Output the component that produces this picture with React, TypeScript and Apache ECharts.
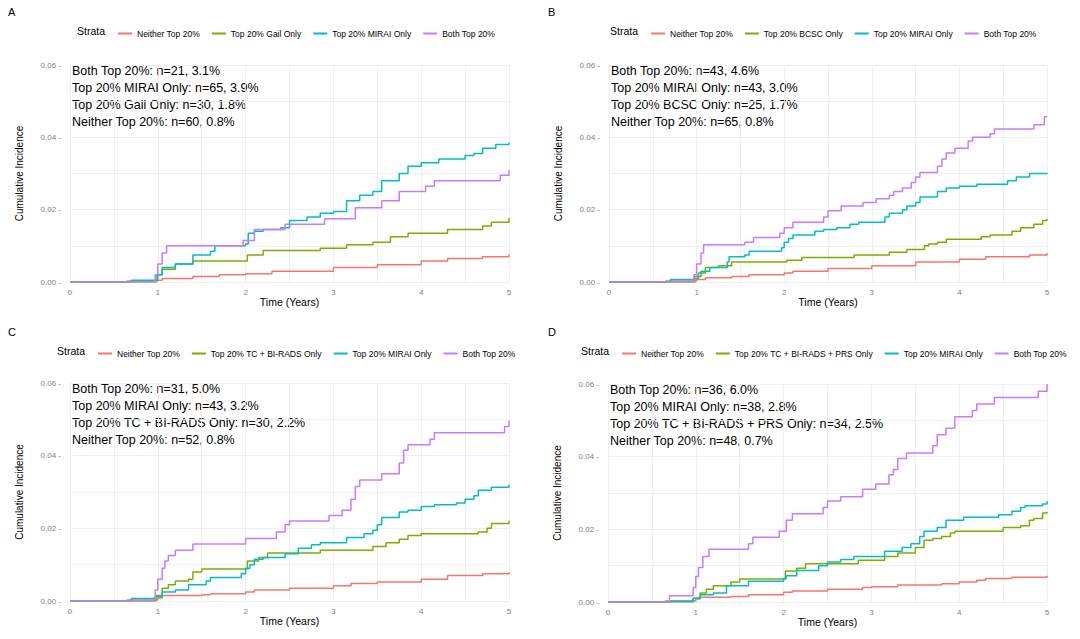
import { useEffect, useRef } from 'react';
import * as echarts from 'echarts';

type Pt = [number, number];

const colors = ['#F8766D', '#7CAE00', '#00BFC4', '#C77CFF'];

// panel A
const aNames = ['Neither Top 20%', 'Top 20% Gail Only', 'Top 20% MIRAI Only', 'Both Top 20%'];
const aNeither: Pt[] = [[0.65, 0.0003], [1.0, 0.0005], [1.05, 0.001], [1.4, 0.0015], [1.7, 0.002], [2.0, 0.0023], [2.3, 0.003], [3.0, 0.004], [3.5, 0.0048], [4.0, 0.0058], [4.3, 0.0065], [4.7, 0.007], [5.0, 0.0077]];
const aOther: Pt[] = [[0.98, 0.002], [1.05, 0.0035], [1.2, 0.005], [1.4, 0.0058], [2.02, 0.0075], [2.2, 0.0087], [2.85, 0.0093], [3.15, 0.0103], [3.45, 0.011], [3.65, 0.0125], [3.85, 0.0135], [4.3, 0.0145], [4.7, 0.0155], [4.8, 0.0165], [5.0, 0.0177]];
const aMirai: Pt[] = [[0.7, 0.0005], [1.0, 0.002], [1.05, 0.004], [1.2, 0.005], [1.4, 0.0075], [1.6, 0.0085], [1.65, 0.01], [2.0, 0.0105], [2.03, 0.0135], [2.1, 0.014], [2.2, 0.0145], [2.4, 0.015], [2.5, 0.017], [2.7, 0.018], [2.85, 0.019], [3.0, 0.0195], [3.15, 0.0225], [3.3, 0.024], [3.45, 0.025], [3.55, 0.028], [3.75, 0.03], [3.85, 0.032], [4.0, 0.033], [4.2, 0.034], [4.5, 0.035], [4.6, 0.0355], [4.7, 0.037], [4.85, 0.038], [5.0, 0.0385]];
const aBoth: Pt[] = [[0.97, 0.002], [1.0, 0.005], [1.05, 0.008], [1.1, 0.01], [1.97, 0.0115], [2.1, 0.0145], [2.45, 0.016], [2.9, 0.0175], [3.25, 0.0205], [3.55, 0.0225], [3.75, 0.025], [4.05, 0.0265], [4.15, 0.028], [4.9, 0.0295], [5.0, 0.031]];
const aNotes = ['Both Top 20%: n=21, 3.1%', 'Top 20% MIRAI Only: n=65, 3.9%', 'Top 20% Gail Only: n=30, 1.8%', 'Neither Top 20%: n=60, 0.8%'];

// panel B
const bNames = ['Neither Top 20%', 'Top 20% BCSC Only', 'Top 20% MIRAI Only', 'Both Top 20%'];
const bNeither: Pt[] = [[0.65, 0.0003], [1.0, 0.0007], [1.1, 0.0012], [1.4, 0.0015], [1.6, 0.002], [2.0, 0.0025], [2.1, 0.003], [2.5, 0.0037], [3.0, 0.0045], [3.5, 0.0055], [4.0, 0.0063], [4.3, 0.007], [4.8, 0.0075], [5.0, 0.008]];
const bOther: Pt[] = [[0.98, 0.001], [1.02, 0.0025], [1.1, 0.004], [1.25, 0.0045], [1.4, 0.0055], [2.03, 0.006], [2.2, 0.0068], [2.8, 0.0075], [3.2, 0.0082], [3.4, 0.009], [3.6, 0.01], [3.65, 0.0105], [3.75, 0.011], [3.85, 0.0118], [4.25, 0.0125], [4.35, 0.013], [4.6, 0.014], [4.7, 0.015], [4.85, 0.016], [4.95, 0.017], [5.0, 0.0175]];
const bMirai: Pt[] = [[0.7, 0.0007], [0.97, 0.0015], [1.05, 0.003], [1.15, 0.004], [1.35, 0.0055], [1.37, 0.007], [1.55, 0.0075], [1.6, 0.0085], [1.97, 0.0095], [2.0, 0.011], [2.05, 0.012], [2.1, 0.013], [2.35, 0.014], [2.45, 0.0145], [2.6, 0.015], [2.75, 0.016], [2.85, 0.0165], [3.15, 0.018], [3.2, 0.019], [3.35, 0.02], [3.4, 0.021], [3.5, 0.022], [3.55, 0.0235], [3.75, 0.025], [3.85, 0.026], [4.0, 0.0265], [4.2, 0.027], [4.55, 0.028], [4.65, 0.029], [4.8, 0.03], [5.0, 0.0302]];
const bBoth: Pt[] = [[0.97, 0.002], [1.0, 0.005], [1.05, 0.008], [1.08, 0.0103], [1.55, 0.011], [1.65, 0.0123], [1.95, 0.0135], [2.0, 0.015], [2.1, 0.0165], [2.45, 0.018], [2.5, 0.0197], [2.65, 0.021], [2.9, 0.022], [3.05, 0.023], [3.2, 0.024], [3.25, 0.025], [3.35, 0.026], [3.45, 0.0275], [3.5, 0.029], [3.55, 0.0303], [3.75, 0.032], [3.8, 0.034], [3.85, 0.0357], [3.95, 0.037], [4.1, 0.039], [4.15, 0.04], [4.35, 0.041], [4.4, 0.0423], [4.85, 0.0435], [4.97, 0.0457]];
const bNotes = ['Both Top 20%: n=43, 4.6%', 'Top 20% MIRAI Only: n=43, 3.0%', 'Top 20% BCSC Only: n=25, 1.7%', 'Neither Top 20%: n=65, 0.8%'];

// panel C
const cNames = ['Neither Top 20%', 'Top 20% TC + BI-RADS Only', 'Top 20% MIRAI Only', 'Both Top 20%'];
const cNeither: Pt[] = [[0.65, 0.0003], [1.0, 0.0008], [1.05, 0.0015], [1.5, 0.0017], [1.6, 0.002], [2.0, 0.0025], [2.1, 0.003], [2.5, 0.0035], [3.0, 0.0042], [3.2, 0.0048], [3.5, 0.0052], [4.0, 0.006], [4.3, 0.007], [4.7, 0.0075], [5.0, 0.008]];
const cOther: Pt[] = [[0.98, 0.0015], [1.05, 0.0035], [1.12, 0.0045], [1.2, 0.0055], [1.35, 0.006], [1.4, 0.008], [1.5, 0.0088], [2.02, 0.011], [2.15, 0.012], [2.25, 0.0132], [2.85, 0.014], [3.45, 0.015], [3.6, 0.016], [3.75, 0.017], [3.85, 0.018], [4.0, 0.0185], [4.65, 0.019], [4.75, 0.02], [4.8, 0.0213], [5.0, 0.022]];
const cMirai: Pt[] = [[0.7, 0.0007], [0.97, 0.0012], [1.05, 0.0025], [1.2, 0.003], [1.35, 0.0045], [1.55, 0.0055], [1.6, 0.0065], [1.95, 0.0075], [2.0, 0.009], [2.05, 0.01], [2.1, 0.0115], [2.2, 0.012], [2.45, 0.013], [2.6, 0.0145], [2.75, 0.0155], [2.85, 0.016], [3.15, 0.0175], [3.35, 0.0185], [3.45, 0.0195], [3.5, 0.021], [3.55, 0.023], [3.75, 0.0245], [3.85, 0.025], [4.0, 0.026], [4.15, 0.0265], [4.4, 0.027], [4.5, 0.028], [4.6, 0.029], [4.65, 0.0305], [4.8, 0.0313], [5.0, 0.032]];
const cBoth: Pt[] = [[0.97, 0.003], [1.0, 0.006], [1.05, 0.009], [1.08, 0.011], [1.12, 0.0125], [1.2, 0.014], [1.4, 0.0157], [2.0, 0.0172], [2.35, 0.019], [2.45, 0.021], [2.5, 0.022], [2.95, 0.0235], [3.1, 0.025], [3.2, 0.028], [3.25, 0.0315], [3.3, 0.0333], [3.55, 0.035], [3.75, 0.038], [3.8, 0.0415], [3.85, 0.043], [4.1, 0.0445], [4.15, 0.0463], [4.95, 0.048], [5.0, 0.0497]];
const cNotes = ['Both Top 20%: n=31, 5.0%', 'Top 20% MIRAI Only: n=43, 3.2%', 'Top 20% TC + BI-RADS Only: n=30, 2.2%', 'Neither Top 20%: n=52, 0.8%'];

// panel D
const dNames = ['Neither Top 20%', 'Top 20% TC + BI-RADS + PRS Only', 'Top 20% MIRAI Only', 'Both Top 20%'];
const dNeither: Pt[] = [[0.65, 0.0003], [1.0, 0.0008], [1.05, 0.0013], [1.4, 0.0015], [1.6, 0.002], [2.0, 0.0027], [2.1, 0.003], [2.5, 0.0035], [2.9, 0.004], [3.0, 0.0042], [3.3, 0.0047], [3.8, 0.005], [4.0, 0.0055], [4.2, 0.006], [4.3, 0.0065], [4.6, 0.0068], [5.0, 0.0072]];
const dOther: Pt[] = [[0.97, 0.001], [1.05, 0.0025], [1.12, 0.0035], [1.2, 0.0045], [1.4, 0.0055], [1.5, 0.0063], [2.02, 0.0085], [2.15, 0.0093], [2.25, 0.0105], [2.85, 0.0115], [3.15, 0.0125], [3.3, 0.0135], [3.5, 0.015], [3.6, 0.017], [3.7, 0.0175], [3.8, 0.018], [3.9, 0.019], [3.95, 0.0195], [4.5, 0.0205], [4.7, 0.021], [4.8, 0.0225], [4.85, 0.023], [4.95, 0.0245], [5.0, 0.0248]];
const dMirai: Pt[] = [[0.7, 0.0002], [0.97, 0.001], [1.05, 0.002], [1.2, 0.0025], [1.35, 0.0045], [1.6, 0.0057], [2.0, 0.0065], [2.03, 0.0072], [2.15, 0.0087], [2.4, 0.01], [2.5, 0.011], [2.65, 0.0117], [2.8, 0.0125], [3.15, 0.014], [3.35, 0.015], [3.45, 0.016], [3.55, 0.018], [3.6, 0.0195], [3.75, 0.0205], [3.85, 0.0225], [4.05, 0.0233], [4.45, 0.024], [4.6, 0.025], [4.7, 0.026], [4.75, 0.0265], [4.95, 0.027], [5.0, 0.0278]];
const dBoth: Pt[] = [[0.7, 0.0017], [0.97, 0.004], [1.0, 0.007], [1.03, 0.0095], [1.08, 0.0125], [1.15, 0.0145], [1.6, 0.016], [1.65, 0.0178], [1.95, 0.0195], [2.03, 0.0225], [2.1, 0.0243], [2.45, 0.026], [2.5, 0.0278], [2.65, 0.029], [2.9, 0.031], [3.05, 0.0325], [3.2, 0.035], [3.25, 0.0365], [3.3, 0.0395], [3.4, 0.041], [3.7, 0.043], [3.75, 0.046], [3.85, 0.0478], [3.95, 0.051], [4.15, 0.0527], [4.2, 0.0545], [4.4, 0.0563], [4.9, 0.058], [5.0, 0.06]];
const dNotes = ['Both Top 20%: n=36, 6.0%', 'Top 20% MIRAI Only: n=38, 2.8%', 'Top 20% TC + BI-RADS + PRS Only: n=34, 2.5%', 'Neither Top 20%: n=48, 0.7%'];

const xTicks = [0, 1, 2, 3, 4, 5];
const yTicks = [0, 0.02, 0.04, 0.06];

const panels = [
  { tag: 'A', names: aNames, lines: [aNeither, aOther, aMirai, aBoth], notes: aNotes, left: 70, width: 439, top: 65, height: 217, px: 0, py: 0, legendLeft: 113 },
  { tag: 'B', names: bNames, lines: [bNeither, bOther, bMirai, bBoth], notes: bNotes, left: 609, width: 438, top: 65, height: 217, px: 540, py: 0, legendLeft: 646 },
  { tag: 'C', names: cNames, lines: [cNeither, cOther, cMirai, cBoth], notes: cNotes, left: 70, width: 439, top: 383, height: 218, px: 0, py: 320, legendLeft: 93 },
  { tag: 'D', names: dNames, lines: [dNeither, dOther, dMirai, dBoth], notes: dNotes, left: 608, width: 439, top: 384, height: 218, px: 540, py: 320, legendLeft: 617 },
];

const font = 'Liberation Sans, Arial, sans-serif';

export default function App() {
  const container = useRef<HTMLDivElement>(null);

  useEffect(() => {
    if (!container.current) return;
    const chart = echarts.init(container.current, null, { renderer: 'svg' });

    const grid: any[] = [];
    const xAxis: any[] = [];
    const yAxis: any[] = [];
    const series: any[] = [];
    const legend: any[] = [];
    const graphic: any[] = [];

    panels.forEach((p, i) => {
      grid.push({ left: p.left, top: p.top, width: p.width, height: p.height });
      xAxis.push({
        gridIndex: i, type: 'value', min: 0, max: 5, interval: 0.5,
        name: 'Time (Years)', nameLocation: 'middle', nameGap: 14,
        nameTextStyle: { fontSize: 10.5, color: '#000', fontFamily: font },
        axisLine: { show: false }, axisTick: { show: false },
        axisLabel: {
          fontSize: 8, color: '#7f7f7f', margin: 6, fontFamily: font,
          formatter: (v: number) => (xTicks.includes(v) ? String(v) : ''),
        },
        splitLine: { lineStyle: { color: '#ebebeb', width: 0.8 } },
      });
      yAxis.push({
        gridIndex: i, type: 'value', min: 0, max: 0.06, interval: 0.01,
        name: 'Cumulative Incidence', nameLocation: 'middle', nameGap: 46,
        nameTextStyle: { fontSize: 10, color: '#000', fontFamily: font },
        axisLine: { show: false },
        axisTick: { show: false },
        axisLabel: {
          fontSize: 8, color: '#7f7f7f', margin: 9, fontFamily: font,
          formatter: (v: number) => (yTicks.some((t) => Math.abs(t - v) < 1e-9) ? v.toFixed(2) + ' -' : ''),
        },
        splitLine: { lineStyle: { color: '#ebebeb', width: 0.8 } },
      });
      p.lines.forEach((pts, k) => {
        const data: Pt[] = [[0, 0], ...pts];
        if (data[data.length - 1][0] < 5) data.push([5, data[data.length - 1][1]]);
        series.push({
          type: 'line', name: p.names[k], xAxisIndex: i, yAxisIndex: i,
          step: 'end', showSymbol: false, data,
          lineStyle: { color: colors[k], width: 1.5 }, itemStyle: { color: colors[k] },
        });
      });
      legend.push({
        data: p.names.map((n) => ({ name: n, icon: 'rect' })),
        left: p.legendLeft, top: p.py + 24, itemWidth: 14, itemHeight: 2, itemGap: 12,
        textStyle: { fontSize: 8.5, color: '#000', fontFamily: font }, selectedMode: false,
      });
      graphic.push({ type: 'text', left: p.px + 8, top: p.py + 6, style: { text: p.tag, fontSize: 11, fill: '#000', fontFamily: font } });
      graphic.push({ type: 'text', left: p.legendLeft - 36, top: p.py + 25, style: { text: 'Strata', fontSize: 10.5, fill: '#000', fontFamily: font } });
      p.notes.forEach((t, k) => {
        graphic.push({ type: 'text', left: p.left + 2, top: p.top - 1 + k * 17, style: { text: t, fontSize: 12.5, fill: '#000', fontFamily: font } });
      });
    });

    chart.setOption({ animation: false, grid, xAxis, yAxis, series, legend, graphic });
    return () => chart.dispose();
  }, []);

  return <div ref={container} style={{ position: 'fixed', left: 0, top: 0, width: 1080, height: 639, background: '#fff' }} />;
}
